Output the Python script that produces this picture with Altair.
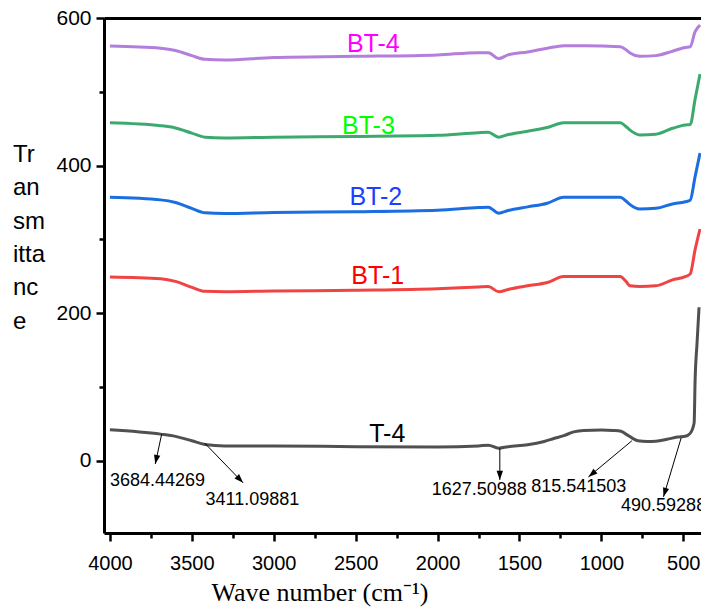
import math
import altair as alt
import pandas as pd

# ---------------- data ----------------
series_names = ["T-4", "BT-1", "BT-2", "BT-3", "BT-4"]
line_colors = ["#505050", "#F04444", "#1A6EE0", "#3CAA6E", "#B47EDC"]
label_colors = ["#000000", "#FF0000", "#1F3FFF", "#00FF00", "#FF00FF"]

wn_bt = [4000, 3690, 3600, 3500, 3420, 3300, 3000, 2500, 2000, 1750, 1690, 1627, 1570,
         1450, 1330, 1230, 1100, 885, 850, 825, 765, 668, 566, 488, 458, 428, 398]
bt4 = [562, 559, 556, 549, 544, 543, 546.5, 548, 550, 553, 553, 545, 550,
       554, 559, 562.5, 562.5, 561, 557, 552.5, 548, 549, 555, 560, 561, 581.5, 590.5]
bt3 = [458, 454, 451, 444, 438.5, 437.5, 438.5, 439.5, 441, 444.5, 445, 438.5, 442,
       446.5, 451.5, 458, 458, 458, 453, 448, 441.5, 442.5, 450.5, 455, 455.5, 490, 524]
bt2 = [357, 353.5, 350, 342, 336, 335, 336.5, 337.5, 339.5, 343, 343.6, 335.5, 339,
       344, 349, 357, 357, 357, 352, 347, 341, 342, 348, 351, 353, 385, 417]
bt1 = [249, 246.5, 243, 235, 229.5, 229, 230, 231, 233, 235.5, 236, 229, 232,
       237, 241.5, 249.5, 249.5, 249.5, 243, 237, 236, 237, 245, 249.5, 253, 286, 314]

wn_t4 = [4000, 3690, 3600, 3500, 3420, 3300, 3000, 2500, 2000, 1750, 1690, 1627, 1570,
         1450, 1349, 1290, 1229, 1169, 1108, 1000, 928, 880, 850, 807, 777, 720, 668,
         600, 536, 488, 458, 434, 428, 416, 404]
t4 = [42, 36, 33, 27, 22, 20, 20, 19, 18.5, 20, 21, 17, 19,
      21.5, 26, 30, 34, 39, 41, 41.5, 41, 40, 36, 30, 27, 26, 26.5,
      29, 32, 33, 37, 51, 109, 160, 208]

# series label positions
label_x = [2307, 2365, 2377, 2422, 2392]
label_y = [36, 250, 358, 453.6, 564.8]

# peak annotations
ann_text = ["3684.44269", "3411.09881", "1627.50988", "815.541503", "490.592880"]
ann_tx = [4000, 3416, 2036, 1428, 880]
ann_ty = [-28, -53, -39.7, -36.3, -61.4]
arrow_x1 = [3684, 3422, 1620, 814, 513]
arrow_y1 = [36, 24, 17, 27, 31]
arrow_x2 = [3723, 3187, 1620, 1079, 621]
arrow_y2 = [-4.5, -30, -26, -22, -49]

x_ticks = [4000, 3750, 3500, 3250, 3000, 2750, 2500, 2250, 2000, 1750, 1500, 1250, 1000, 750, 500]
y_ticks = [0, 100, 200, 300, 400, 500, 600]

# ---------------- layout ----------------
W, H = 597, 515
X_DOM = [392, 4036]
Y_DOM = [-98, 600]
kx = W / (X_DOM[1] - X_DOM[0])
ky = H / (Y_DOM[1] - Y_DOM[0])
FONT = "Liberation Sans"

rows = []
for name, vals in zip(["BT-1", "BT-2", "BT-3", "BT-4"], [bt1, bt2, bt3, bt4]):
    for w, v in zip(wn_bt, vals):
        rows.append({"series": name, "wn": w, "val": v})
for w, v in zip(wn_t4, t4):
    rows.append({"series": "T-4", "wn": w, "val": v})
df = pd.DataFrame(rows)

df_lab = pd.DataFrame({"series": series_names, "x": label_x, "y": label_y})

angles = []
for a, b, c, d in zip(arrow_x1, arrow_y1, arrow_x2, arrow_y2):
    dx = -(c - a) * kx
    dy = -(d - b) * ky
    ang = math.degrees(math.atan2(-dx, dy)) % 360
    angles.append(ang)
df_arr = pd.DataFrame({"x1": arrow_x1, "y1": arrow_y1, "x2": arrow_x2, "y2": arrow_y2,
                       "ang": angles})
df_ann = pd.DataFrame({"t": ann_text, "x": ann_tx, "y": ann_ty})

xscale = alt.Scale(domain=X_DOM, reverse=True, nice=False, zero=False)
yscale = alt.Scale(domain=Y_DOM, nice=False, zero=False)
cscale = alt.Scale(domain=series_names, range=line_colors)

x_axis = alt.Axis(
    values=x_ticks, orient="bottom", title=None, grid=False,
    labelExpr="datum.value % 500 === 0 ? datum.label : ''",
    format="d", labelOverlap=False,
    labelFont=FONT, labelFontSize=20, labelColor="black", labelPadding=12,
    tickSize={"condition": {"test": "datum.value % 500 === 0", "value": 8}, "value": 5},
    tickWidth=2.5, tickColor="black", domainColor="black", domainWidth=3,
)
y_axis = alt.Axis(
    values=y_ticks, orient="left", title=None, grid=False,
    labelExpr="datum.value % 200 === 0 ? datum.label : ''",
    format="d", labelOverlap=False,
    labelFont=FONT, labelFontSize=21, labelColor="black", labelPadding=5,
    tickSize={"condition": {"test": "datum.value % 200 === 0", "value": 8}, "value": 5},
    tickWidth=2.5, tickColor="black", domainColor="black", domainWidth=3,
)

lines = alt.Chart(df).mark_line(strokeWidth=3, interpolate="monotone").encode(
    x=alt.X("wn:Q", scale=xscale, axis=x_axis),
    y=alt.Y("val:Q", scale=yscale, axis=y_axis),
    color=alt.Color("series:N", scale=cscale, legend=None),
    detail="series:N",
    order=alt.Order("wn:Q", sort="descending"),
)

arrows = alt.Chart(df_arr).mark_rule(color="black", strokeWidth=1).encode(
    x=alt.X("x1:Q", scale=xscale, axis=None),
    y=alt.Y("y1:Q", scale=yscale, axis=None),
    x2="x2:Q", y2="y2:Q",
)
heads = alt.Chart(df_arr).mark_point(
    shape="M0,0L-0.35,-1L0.35,-1Z", filled=True, color="black", opacity=1, size=330
).encode(
    x=alt.X("x2:Q", scale=xscale, axis=None),
    y=alt.Y("y2:Q", scale=yscale, axis=None),
    angle=alt.Angle("ang:Q", scale=None),
)
ann = alt.Chart(df_ann).mark_text(
    align="left", baseline="middle", font=FONT, fontSize=18, color="black"
).encode(
    x=alt.X("x:Q", scale=xscale, axis=None),
    y=alt.Y("y:Q", scale=yscale, axis=None),
    text="t:N",
)
labels = alt.Chart(df_lab).mark_text(
    align="center", baseline="middle", font=FONT, fontSize=25
).encode(
    x=alt.X("x:Q", scale=xscale, axis=alt.Axis(orient="top", labels=False, ticks=False,
                                              domain=True, domainWidth=3,
                                              domainColor="black", title=None, grid=False)),
    y=alt.Y("y:Q", scale=yscale, axis=None),
    text="series:N",
    color=alt.Color("series:N", scale=alt.Scale(domain=series_names, range=label_colors),
                    legend=None),
)

ytitle = alt.Chart(pd.DataFrame({"t": ["Tr\nan\nsm\nitta\nnc\ne"]})).mark_text(
    align="left", baseline="alphabetic", font=FONT, fontSize=24, lineBreak="\n",
    lineHeight=33.3, color="black"
).encode(x=alt.value(-91), y=alt.value(144), text="t:N")

xtitle = alt.Chart(pd.DataFrame({"t": ["Wave number (cm\u207b\u00b9)"]})).mark_text(
    align="center", baseline="alphabetic", font="Liberation Serif", fontSize=26,
    color="black"
).encode(x=alt.value(216), y=alt.value(583), text="t:N")

chart = alt.layer(lines, arrows, heads, ann, labels, ytitle, xtitle).resolve_axis(
    x="independent", y="independent"
).resolve_scale(color="independent").properties(
    width=W, height=H,
    autosize=alt.AutoSizeParams(type="none"),
    padding={"left": 96, "top": 10, "right": 0, "bottom": 75},
).configure_view(stroke=None).configure(background="white")

chart.save("out.html", embed_options={"renderer": "svg", "actions": False})
